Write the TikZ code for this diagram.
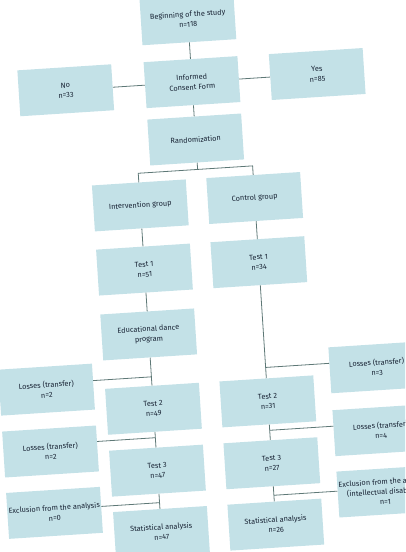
\documentclass[tikz,border=0pt]{standalone}
\usepackage{fontspec}
\setmainfont{Fira Sans}
\definecolor{boxfill}{HTML}{C3E1E7}
\definecolor{linecol}{HTML}{5E7876}
\definecolor{textcol}{HTML}{1A2536}
\begin{document}
\begin{tikzpicture}[x=1pt,y=1pt,
  box/.style={fill=boxfill, minimum width=94pt, minimum height=46pt, inner sep=1pt,
    align=center, text=textcol, font=\fontsize{7.4}{10}\selectfont},
  conn/.style={draw=linecol, line width=0.8pt}]
\useasboundingbox (0,0) rectangle (405,552);
\clip (0,0) rectangle (405,552);
\begin{scope}[transform canvas={rotate around={3.7:(200,276)}}]
\node[box] (begin) at (204.5,533) {Beginning of the study\\n=118};
\node[box] (consent) at (204.5,470) {Informed\\Consent Form};
\node[box] (no) at (78,470) {No\\n=33};
\node[box] (yes) at (330,470) {Yes\\n=85};
\node[box] (rand) at (204.5,412.5) {Randomization};
\node[box] (interv) at (145,350.3) {Intervention group};
\node[box] (control) at (259.6,350.3) {Control group};
\node[box] (tAone) at (145,286) {Test 1\\n=51};
\node[box] (tBone) at (259.6,286) {Test 1\\n=34};
\node[box] (edu) at (145,221) {Educational dance\\program};
\node[box] (lossAone) at (39.5,172.5) {Losses (transfer)\\n=2};
\node[box] (lossBone) at (370.5,173.5) {Losses (transfer)\\n=3};
\node[box] (tAtwo) at (145,146.5) {Test 2\\n=49};
\node[box] (tBtwo) at (259.6,146.5) {Test 2\\n=31};
\node[box] (lossAtwo) at (39.5,110.5) {Losses (transfer)\\n=2};
\node[box] (lossBtwo) at (370.5,110.5) {Losses (transfer)\\n=4};
\node[box] (tAthree) at (145,84.5) {Test 3\\n=47};
\node[box] (tBthree) at (259.6,84.5) {Test 3\\n=27};
\node[box] (exclA) at (39.5,49) {Exclusion from the analysis\\n=0};
\node[box] (exclB) at (370.5,49) {Exclusion from the analysis\\(intellectual disability)\\n=1};
\node[box] (statA) at (145,23) {Statistical analysis\\n=47};
\node[box] (statB) at (259.6,23) {Statistical analysis\\n=26};
% junction points
\coordinate (split) at (204.5,382.5);
\coordinate (jAone) at (145,178.5);
\coordinate (jBone) at (259.6,180.5);
\coordinate (jAtwo) at (145,117.5);
\coordinate (jBtwo) at (259.6,117.5);
\coordinate (jAex) at (145,52.4);
\coordinate (jBex) at (259.6,52.4);
% connectors
\draw[conn] (begin) -- (consent);
\draw[conn] (no) -- (consent);
\draw[conn] (consent) -- (yes);
\draw[conn] (consent) -- (rand);
\draw[conn] (rand) -- (split);
\draw[conn] (interv.north) |- (split) -| (control.north);
\draw[conn] (interv) -- (tAone);
\draw[conn] (tAone) -- (edu);
\draw[conn] (edu) -- (tAtwo);
\draw[conn] (tAtwo) -- (tAthree);
\draw[conn] (tAthree) -- (statA);
\draw[conn] (control) -- (tBone);
\draw[conn] (tBone) -- (tBtwo);
\draw[conn] (tBtwo) -- (tBthree);
\draw[conn] (tBthree) -- (statB);
\draw[conn] (lossAone.east |- jAone) -- (jAone);
\draw[conn] (jBone) -- (lossBone.west |- jBone);
\draw[conn] (lossAtwo.east |- jAtwo) -- (jAtwo);
\draw[conn] (jBtwo) -- (lossBtwo.west |- jBtwo);
\draw[conn] (exclA.east |- jAex) -- (jAex);
\draw[conn] (jBex) -- (exclB.west |- jBex);
\end{scope}
\end{tikzpicture}
\end{document}
